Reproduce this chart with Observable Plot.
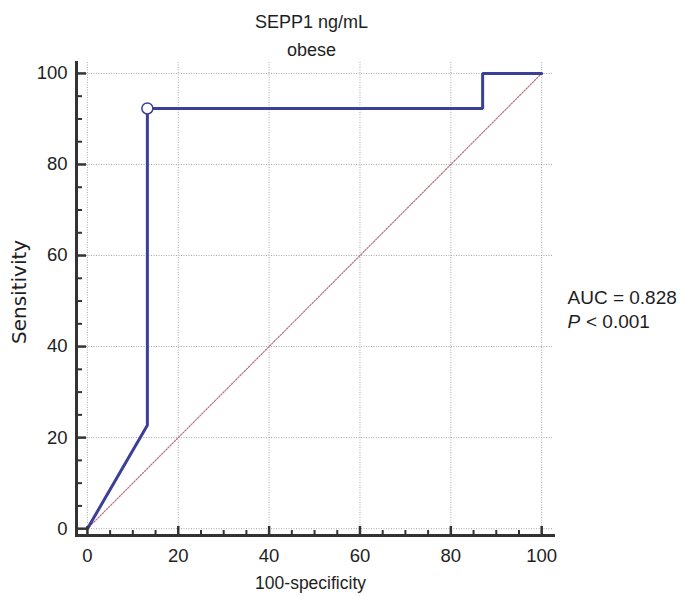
<!DOCTYPE html>
<html><head><meta charset="utf-8">
<script src="https://cdn.jsdelivr.net/npm/d3@7"></script>
<script src="https://cdn.jsdelivr.net/npm/@observablehq/plot@0.6"></script>
<style>body{margin:0;background:#fff}</style>
</head><body><div id="chart"></div><script>
// ROC curve points (100-specificity, sensitivity)
const fpr = [0, 13.2, 13.2, 87, 87, 100];
const tpr = [0, 22.7, 92.3, 92.3, 100, 100];
// optimal cutoff marker
const cutX = [13.2];
const cutY = [92.3];
// reference diagonal
const diagX = [0, 100];
const diagY = [0, 100];
// axis ticks
const majorTicks = [0, 20, 40, 60, 80, 100];
const minorTicks = [5, 10, 15, 25, 30, 35, 45, 50, 55, 65, 70, 75, 85, 90, 95];
// texts
const titleLines = ["SEPP1 ng/mL", "obese"];
const xLabel = "100-specificity";
const yLabel = "Sensitivity";
const aucText = "AUC = 0.828";
const pSymbol = "P";
const pText = "< 0.001";

const font = "Liberation Sans, Arial, sans-serif";
const blue = "#3a3f98";
const axisColor = "#333";
const ink = "#1e1e1e";

const roc = fpr.map((x, i) => ({x, y: tpr[i]}));
const diag = diagX.map((x, i) => ({x, y: diagY[i]}));
const cut = cutX.map((x, i) => ({x, y: cutY[i]}));

const chart = Plot.plot({
  width: 680,
  height: 596,
  marginLeft: 76,
  marginRight: 127,
  marginTop: 62,
  marginBottom: 61,
  style: {fontFamily: font, fontSize: "18px", background: "#fff", color: ink},
  x: {domain: [-2.4, 102.6]},
  y: {domain: [-1.5, 102.4]},
  marks: [
    Plot.gridX(majorTicks, {stroke: "#a8a8a8", strokeOpacity: 1, strokeDasharray: "1,1.5", strokeWidth: 1}),
    Plot.gridY(majorTicks, {stroke: "#a8a8a8", strokeOpacity: 1, strokeDasharray: "1,1.5", strokeWidth: 1}),
    Plot.line(diag, {x: "x", y: "y", stroke: "#b8707c", strokeWidth: 1.2, strokeDasharray: "1.5,1.5"}),
    Plot.line(roc, {x: "x", y: "y", stroke: blue, strokeWidth: 3, strokeLinejoin: "miter"}),
    Plot.dot(cut, {x: "x", y: "y", r: 5.5, fill: "#fff", stroke: blue, strokeWidth: 1.5}),
    // axis ticks (inward)
    Plot.axisX(majorTicks, {anchor: "bottom", tickSize: -9, strokeWidth: 2.5, stroke: axisColor, text: null, label: null}),
    Plot.axisX(minorTicks, {anchor: "bottom", tickSize: -5, strokeWidth: 2, stroke: axisColor, text: null, label: null}),
    Plot.axisY(majorTicks, {anchor: "left", tickSize: -10, strokeWidth: 2.5, stroke: axisColor, text: null, label: null}),
    Plot.axisY(minorTicks, {anchor: "left", tickSize: -6, strokeWidth: 2, stroke: axisColor, text: null, label: null}),
    // tick labels
    Plot.axisX(majorTicks, {anchor: "bottom", tickSize: 0, tickPadding: 13, fontSize: 18.5, fill: ink, label: null}),
    Plot.axisY(majorTicks, {anchor: "left", tickSize: 0, tickPadding: 9, fontSize: 18.5, fill: ink, label: null}),
    // axis lines
    Plot.frame({anchor: "left", stroke: axisColor, strokeWidth: 3}),
    Plot.frame({anchor: "bottom", stroke: axisColor, strokeWidth: 3}),
    // titles
    Plot.text([titleLines[0]], {x: 50, frameAnchor: "top", textAnchor: "middle", lineAnchor: "middle", dx: -3, dy: -40, fontSize: 18, fill: ink}),
    Plot.text([titleLines[1]], {x: 50, frameAnchor: "top", textAnchor: "middle", lineAnchor: "middle", dx: -3, dy: -12, fontSize: 18, fill: ink}),
    Plot.text([xLabel], {x: 50, frameAnchor: "bottom", textAnchor: "middle", lineAnchor: "middle", dx: -4, dy: 48, fontSize: 17.5, fill: ink}),
    Plot.text([yLabel], {frameAnchor: "left", y: 52, textAnchor: "middle", lineAnchor: "middle", dx: -57, rotate: -90, fontSize: 20, fontFamily: "DejaVu Sans, Verdana, sans-serif", fill: ink}),
    // AUC annotation
    Plot.text([aucText], {frameAnchor: "right", dx: 14, dy: -1.5, textAnchor: "start", lineAnchor: "middle", fontSize: 19, fill: ink}),
    Plot.text([pSymbol], {frameAnchor: "right", dx: 14, dy: 22.5, textAnchor: "start", lineAnchor: "middle", fontSize: 19, fontStyle: "italic", fill: ink}),
    Plot.text([pText], {frameAnchor: "right", dx: 32.5, dy: 22.5, textAnchor: "start", lineAnchor: "middle", fontSize: 19, fill: ink})
  ]
});
document.getElementById("chart").appendChild(chart);
</script></body></html>
